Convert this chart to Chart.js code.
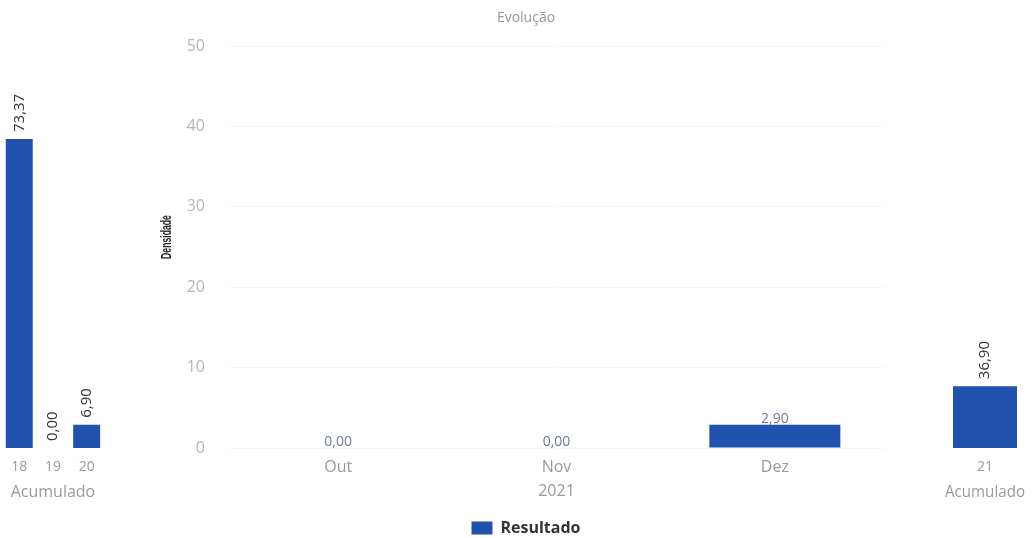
<!DOCTYPE html>
<html>
<head>
<meta charset="utf-8">
<script src="https://cdn.jsdelivr.net/npm/chart.js@4"></script>
<style>
  html, body { margin: 0; padding: 0; background: #fff; overflow: hidden; }
  .box { position: absolute; top: 0; }
</style>
</head>
<body>
<div class="box" style="left:0"><canvas id="mainCanvas" width="1035" height="538"></canvas></div>
<div class="box" style="left:0"><canvas id="leftCanvas" width="110" height="538"></canvas></div>
<div class="box" style="left:930px"><canvas id="rightCanvas" width="105" height="538"></canvas></div>
<script>
// data
const leftLabels = ['18', '19', '20'];
const leftValues = [73.37, 0.00, 6.90];
const monthLabels = ['Out', 'Nov', 'Dez'];
const monthValues = [0.00, 0.00, 2.90];
const rightLabels = ['21'];
const rightValues = [36.90];
const yTicks = [0, 10, 20, 30, 40, 50];

const barColor = '#2152b0';
const font = 'Open Sans';

function fmt(v) {
    return v.toFixed(2).replace('.', ',');
}

// draws the value above each bar
const valueLabels = {
    id: 'valueLabels',
    afterDatasetsDraw(chart, args, opts) {
        const ctx = chart.ctx;
        const area = chart.chartArea;
        chart.getDatasetMeta(0).data.forEach((bar, i) => {
            const txt = fmt(chart.data.datasets[0].data[i]);
            const y = Math.min(bar.y, area.bottom);
            ctx.save();
            ctx.font = opts.font;
            ctx.fillStyle = opts.color;
            if (opts.rotate) {
                ctx.translate(bar.x, y - 7);
                ctx.rotate(-Math.PI / 2);
                ctx.textAlign = 'left';
                ctx.textBaseline = 'middle';
                ctx.fillText(txt, 0, 0);
            } else {
                ctx.textAlign = 'center';
                ctx.textBaseline = 'alphabetic';
                ctx.fillText(txt, bar.x, y - 2);
            }
            ctx.restore();
        });
    }
};

// narrow bold y title, like the original
const yTitle = {
    id: 'yTitle',
    afterDraw(chart) {
        const ctx = chart.ctx;
        ctx.save();
        ctx.translate(167, 237);
        ctx.rotate(-Math.PI / 2);
        ctx.scale(0.62, 1);
        ctx.font = 'bold 14px "Liberation Sans"';
        ctx.fillStyle = '#222';
        ctx.textAlign = 'center';
        ctx.textBaseline = 'middle';
        ctx.fillText('Densidade', 0, 0);
        ctx.restore();
    }
};

function sidePanel(id, labels, values, yMin, yMax, padL, padR) {
    new Chart(document.getElementById(id).getContext('2d'), {
        type: 'bar',
        data: {
            labels: labels,
            datasets: [{
                data: values,
                backgroundColor: barColor,
                barPercentage: 0.8,
                categoryPercentage: 1,
                clip: 0
            }]
        },
        options: {
            responsive: false,
            animation: false,
            layout: { padding: { left: padL, right: padR, top: 46, bottom: 0 } },
            plugins: {
                legend: { display: false },
                tooltip: { enabled: false },
                valueLabels: { font: '15px "' + font + '"', color: '#333', rotate: true }
            },
            scales: {
                y: { display: false, min: yMin, max: yMax },
                x: {
                    grid: { display: false, drawTicks: false },
                    border: { display: false },
                    ticks: { color: '#999', font: { family: font, size: 14 }, padding: 11 },
                    title: { display: true, text: 'Acumulado', color: '#999', font: { family: font, size: 16 }, padding: { top: 0, bottom: 36 } },
                    afterFit: s => { s.height = 90; }
                }
            }
        },
        plugins: [valueLabels]
    });
}

// main panel
new Chart(document.getElementById('mainCanvas').getContext('2d'), {
    type: 'bar',
    data: {
        labels: monthLabels,
        datasets: [{
            label: 'Resultado',
            data: monthValues,
            backgroundColor: barColor,
            barPercentage: 0.6,
            categoryPercentage: 1
        }]
    },
    options: {
        responsive: false,
        animation: false,
        layout: { padding: { left: 168, right: 151, top: 0, bottom: -8 } },
        plugins: {
            title: {
                display: true,
                text: 'Evolução',
                color: '#999',
                font: { family: font, size: 14, weight: 'normal' },
                padding: { top: 9.6, bottom: 19.6 }
            },
            legend: {
                position: 'bottom',
                labels: {
                    color: '#333',
                    font: { family: font, size: 16, weight: 'bold' },
                    boxWidth: 21,
                    boxHeight: 13,
                    padding: 4
                }
            },
            tooltip: { enabled: false },
            valueLabels: { font: '14px "' + font + '"', color: '#6d7a96', rotate: false }
        },
        scales: {
            y: {
                min: 0,
                max: 50,
                afterBuildTicks: s => { s.ticks = yTicks.map(v => ({ value: v })); },
                grid: { color: '#f7f7f7', drawTicks: false },
                border: { display: false },
                ticks: { color: '#b5b5b5', font: { family: font, size: 16 }, padding: 24 },
                afterFit: s => { s.width = 61; }
            },
            x: {
                grid: { display: false, drawTicks: false },
                border: { display: false },
                ticks: { color: '#999', font: { family: font, size: 16 }, padding: 10 },
                title: { display: true, text: '2021', color: '#999', font: { family: font, size: 16 }, padding: { top: 0, bottom: 15 } },
                afterFit: s => { s.height = 68; }
            }
        }
    },
    plugins: [valueLabels, yTitle]
});

sidePanel('leftCanvas', leftLabels, leftValues, 1.5, 95, 1.5, 6.5);
sidePanel('rightCanvas', rightLabels, rightValues, 0, 240, 15, 10);
</script>
</body>
</html>
